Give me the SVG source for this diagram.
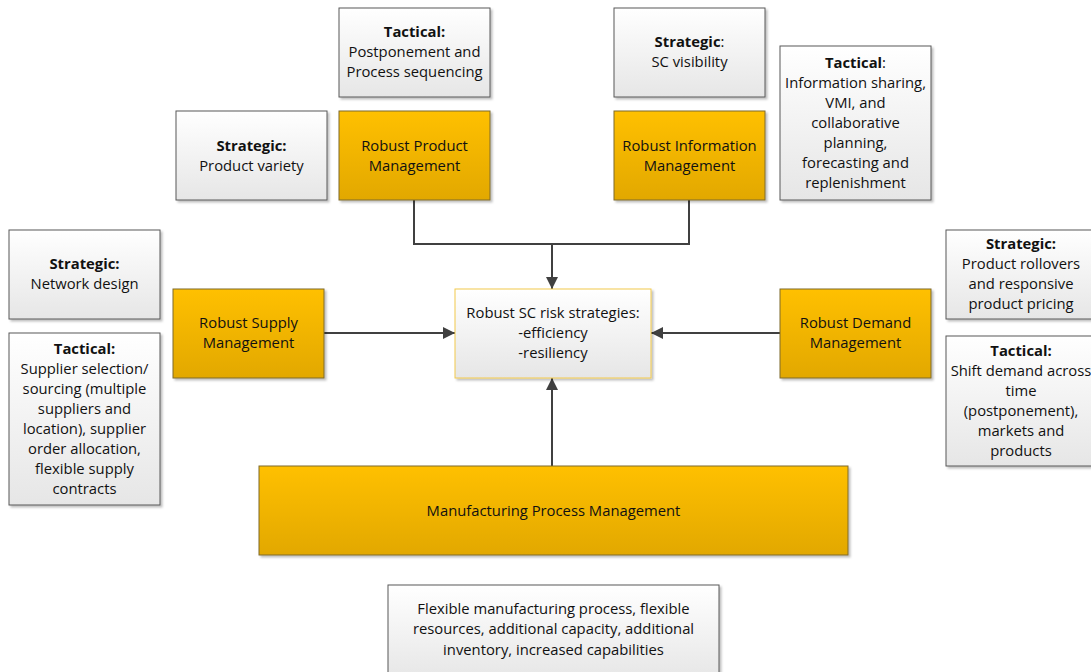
<svg xmlns="http://www.w3.org/2000/svg" width="1091" height="672" viewBox="0 0 1091 672">
  <defs>
    <linearGradient id="gOrange" x1="0" y1="0" x2="0" y2="1">
      <stop offset="0" stop-color="#FFC000"/>
      <stop offset="1" stop-color="#E2A800"/>
    </linearGradient>
    <linearGradient id="gGray" x1="0" y1="0" x2="0" y2="1">
      <stop offset="0" stop-color="#FFFFFF"/>
      <stop offset="1" stop-color="#E6E6E6"/>
    </linearGradient>
    <marker id="arrow" viewBox="0 0 12 12" refX="12" refY="6" markerWidth="12" markerHeight="12" markerUnits="userSpaceOnUse" orient="auto">
      <path d="M0,0 L12,6 L0,12 z" fill="#404040"/>
    </marker>
    <filter id="shadow" x="-10%" y="-10%" width="125%" height="125%">
      <feDropShadow dx="2" dy="2" stdDeviation="1.2" flood-color="#000" flood-opacity="0.25"/>
    </filter>
  </defs>
  <style>
    .orange { fill: url(#gOrange); stroke: #7F6A2E; stroke-width: 1; filter: url(#shadow); }
    .gray { fill: url(#gGray); stroke: #595959; stroke-width: 1; filter: url(#shadow); }
    .center { fill: url(#gGray); stroke: #F2C94C; stroke-width: 1; filter: url(#shadow); }
    text { font-family: "Open Sans", "Liberation Sans", sans-serif; font-size: 14.8px; fill: #111111; text-anchor: middle; }
    .b { font-weight: bold; }
    .conn { fill: none; stroke: #404040; stroke-width: 2; }
  </style>
  <rect width="1091" height="672" fill="#FFFFFF"/>

  <!-- connectors -->
  <g id="connectors">
    <polyline class="conn" points="414,200 414,244 689,244 689,200"/>
    <line class="conn" x1="552" y1="244" x2="552" y2="289" marker-end="url(#arrow)"/>
    <line class="conn" x1="324" y1="333" x2="455" y2="333" marker-end="url(#arrow)"/>
    <line class="conn" x1="780" y1="333" x2="651" y2="333" marker-end="url(#arrow)"/>
    <line class="conn" x1="552" y1="466" x2="552" y2="378" marker-end="url(#arrow)"/>
  </g>

  <g id="tactical-product">
    <rect class="gray" x="339" y="8" width="151" height="89"/>
    <text x="414.5" y="37" class="b">Tactical:</text>
    <text x="414.5" y="57">Postponement and</text>
    <text x="414.5" y="77">Process sequencing</text>
  </g>

  <g id="strategic-information">
    <rect class="gray" x="614" y="8" width="151" height="89"/>
    <text x="689.5" y="47"><tspan class="b">Strategic</tspan>:</text>
    <text x="689.5" y="67">SC visibility</text>
  </g>

  <g id="tactical-information">
    <rect class="gray" x="780" y="46" width="151" height="154"/>
    <text x="855.5" y="68"><tspan class="b">Tactical</tspan>:</text>
    <text x="855.5" y="88">Information sharing,</text>
    <text x="855.5" y="108">VMI, and</text>
    <text x="855.5" y="128">collaborative</text>
    <text x="855.5" y="148">planning,</text>
    <text x="855.5" y="168">forecasting and</text>
    <text x="855.5" y="188">replenishment</text>
  </g>

  <g id="strategic-product">
    <rect class="gray" x="176" y="111" width="151" height="89"/>
    <text x="251.5" y="151" class="b">Strategic:</text>
    <text x="251.5" y="171">Product variety</text>
  </g>

  <g id="robust-product">
    <rect class="orange" x="339" y="111" width="151" height="89"/>
    <text x="414.5" y="151">Robust Product</text>
    <text x="414.5" y="171">Management</text>
  </g>

  <g id="robust-information">
    <rect class="orange" x="614" y="111" width="151" height="89"/>
    <text x="689.5" y="151">Robust Information</text>
    <text x="689.5" y="171">Management</text>
  </g>

  <g id="strategic-supply">
    <rect class="gray" x="9" y="230" width="151" height="89"/>
    <text x="84.5" y="269" class="b">Strategic:</text>
    <text x="84.5" y="289">Network design</text>
  </g>

  <g id="tactical-supply">
    <rect class="gray" x="9" y="333" width="151" height="172"/>
    <text x="84.5" y="354" class="b">Tactical:</text>
    <text x="84.5" y="374">Supplier selection/</text>
    <text x="84.5" y="394">sourcing (multiple</text>
    <text x="84.5" y="414">suppliers and</text>
    <text x="84.5" y="434">location), supplier</text>
    <text x="84.5" y="454">order allocation,</text>
    <text x="84.5" y="474">flexible supply</text>
    <text x="84.5" y="494">contracts</text>
  </g>

  <g id="robust-supply">
    <rect class="orange" x="173" y="289" width="151" height="89"/>
    <text x="248.5" y="328">Robust Supply</text>
    <text x="248.5" y="348">Management</text>
  </g>

  <g id="risk-strategies">
    <rect class="center" x="455" y="289" width="196" height="89"/>
    <text x="553" y="318">Robust SC risk strategies:</text>
    <text x="553" y="338">-efficiency</text>
    <text x="553" y="358">-resiliency</text>
  </g>

  <g id="robust-demand">
    <rect class="orange" x="780" y="289" width="151" height="89"/>
    <text x="855.5" y="328">Robust Demand</text>
    <text x="855.5" y="348">Management</text>
  </g>

  <g id="strategic-demand">
    <rect class="gray" x="946" y="230" width="151" height="89"/>
    <text x="1021" y="249" class="b">Strategic:</text>
    <text x="1021" y="269">Product rollovers</text>
    <text x="1021" y="289">and responsive</text>
    <text x="1021" y="309">product pricing</text>
  </g>

  <g id="tactical-demand">
    <rect class="gray" x="946" y="336" width="151" height="130"/>
    <text x="1021" y="356" class="b">Tactical:</text>
    <text x="1021" y="376">Shift demand across</text>
    <text x="1021" y="396">time</text>
    <text x="1021" y="416">(postponement),</text>
    <text x="1021" y="436">markets and</text>
    <text x="1021" y="456">products</text>
  </g>

  <g id="manufacturing">
    <rect class="orange" x="259" y="466" width="589" height="89"/>
    <text x="553.5" y="516">Manufacturing Process Management</text>
  </g>

  <g id="manufacturing-detail">
    <rect class="gray" x="388" y="585" width="331" height="95"/>
    <text x="553.5" y="614">Flexible manufacturing process, flexible</text>
    <text x="553.5" y="634">resources, additional capacity, additional</text>
    <text x="553.5" y="655">inventory, increased capabilities</text>
  </g>
</svg>
